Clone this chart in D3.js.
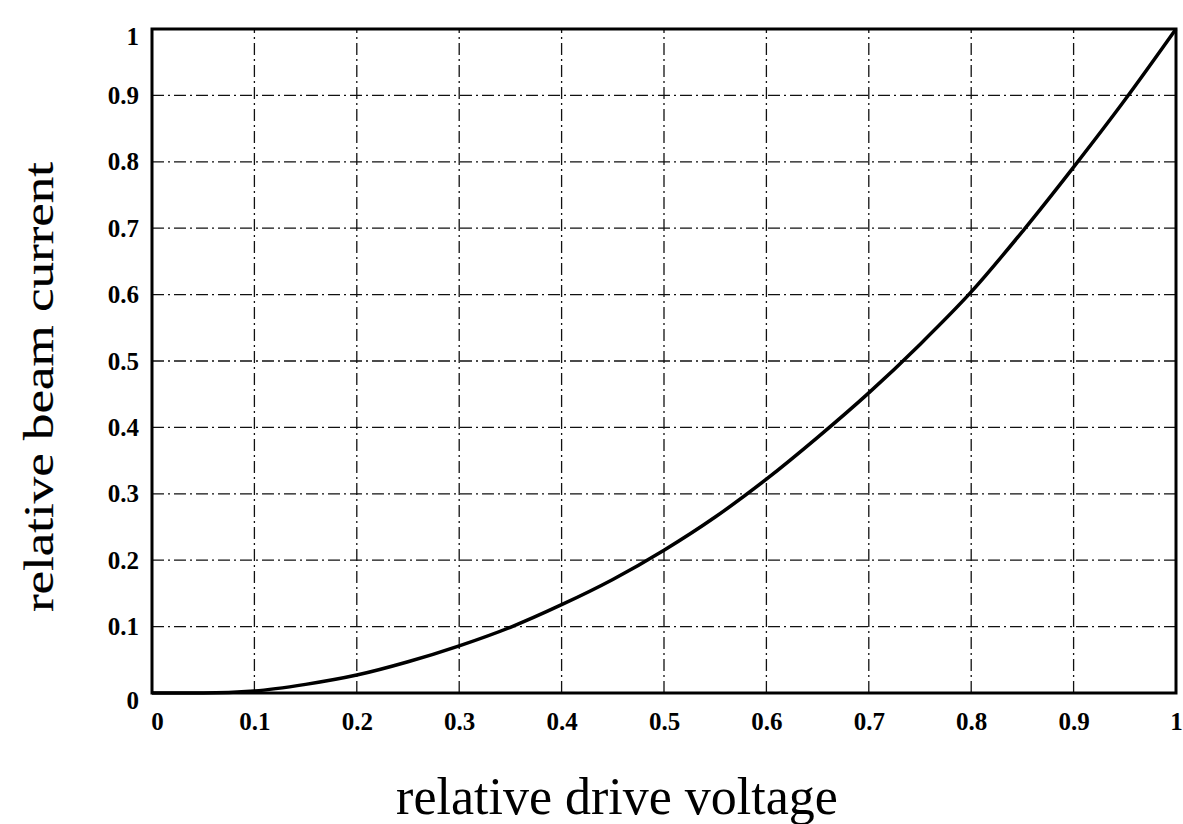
<!DOCTYPE html>
<html>
<head>
<meta charset="utf-8">
<script src="https://cdn.jsdelivr.net/npm/d3@7"></script>
<style>
  body { margin: 0; background: #fff; }
  svg { display: block; }
  .tick text { font-family: "Liberation Serif", "DejaVu Serif", serif; font-weight: bold; }
</style>
</head>
<body>
<svg id="chart" width="1183" height="824"></svg>
<script>
// values
const driveVoltage = [0, 0.05, 0.1, 0.15, 0.2, 0.25, 0.3, 0.35, 0.4, 0.45, 0.5,
  0.55, 0.6, 0.65, 0.7, 0.75, 0.8, 0.85, 0.9, 0.95, 1];
const beamCurrent = [0, 0, 0.003, 0.013, 0.027, 0.047, 0.071, 0.099, 0.133, 0.171, 0.215,
  0.265, 0.322, 0.385, 0.452, 0.525, 0.604, 0.695, 0.792, 0.893, 1];
const xTicks = [0, 0.1, 0.2, 0.3, 0.4, 0.5, 0.6, 0.7, 0.8, 0.9, 1];
const yTicks = [0, 0.1, 0.2, 0.3, 0.4, 0.5, 0.6, 0.7, 0.8, 0.9, 1];

const margin = { top: 29, right: 7, bottom: 131, left: 152 };
const width = 1183, height = 824;

const svg = d3.select("#chart");
const x = d3.scaleLinear().domain([0, 1]).range([margin.left, width - margin.right]);
const y = d3.scaleLinear().domain([0, 1]).range([height - margin.bottom, margin.top]);

const fmt = (d) => (d === 0 || d === 1 ? String(d) : d3.format(".1f")(d));

// grid
const grid = svg.append("g")
  .attr("stroke", "#111")
  .attr("stroke-width", 1.3)
  .attr("stroke-dasharray", "12,4,2,4");

grid.selectAll("line.gx")
  .data(xTicks.slice(1, -1))
  .join("line")
  .attr("class", "gx")
  .attr("x1", (d) => x(d)).attr("x2", (d) => x(d))
  .attr("y1", y(0)).attr("y2", y(1));

grid.selectAll("line.gy")
  .data(yTicks.slice(1, -1))
  .join("line")
  .attr("class", "gy")
  .attr("y1", (d) => y(d)).attr("y2", (d) => y(d))
  .attr("x1", x(0)).attr("x2", x(1));

// curve
const line = d3.line()
  .x((d, i) => x(driveVoltage[i]))
  .y((d) => y(d))
  .curve(d3.curveMonotoneX);

svg.append("path")
  .datum(beamCurrent)
  .attr("fill", "none")
  .attr("stroke", "#000")
  .attr("stroke-width", 3.5)
  .attr("d", line);

// frame
svg.append("rect")
  .attr("x", x(0)).attr("y", y(1))
  .attr("width", x(1) - x(0)).attr("height", y(0) - y(1))
  .attr("fill", "none")
  .attr("stroke", "#000")
  .attr("stroke-width", 3);

// axes
const xAxis = svg.append("g")
  .attr("transform", `translate(0,${y(0)})`)
  .call(d3.axisBottom(x).tickValues(xTicks).tickFormat(fmt).tickSize(0).tickPadding(19));
xAxis.select(".domain").remove();
xAxis.selectAll("text").attr("font-size", 25).attr("fill", "#000");
xAxis.selectAll(".tick").filter((d) => d === 0).select("text").attr("dx", "0.2em");

const yAxis = svg.append("g")
  .attr("transform", `translate(${x(0)},0)`)
  .call(d3.axisLeft(y).tickValues(yTicks).tickFormat(fmt).tickSize(0).tickPadding(13));
yAxis.select(".domain").remove();
yAxis.selectAll("text").attr("font-size", 25).attr("fill", "#000");
yAxis.selectAll(".tick").filter((d) => d === 0 || d === 1).select("text").attr("dy", "0.6em");

// axis titles
svg.append("text")
  .attr("x", 617)
  .attr("y", 814)
  .attr("text-anchor", "middle")
  .attr("font-family", "Liberation Serif, serif")
  .attr("font-size", 52)
  .text("relative drive voltage");

// the scanned y title is stretched along its length
svg.append("text")
  .attr("transform", "translate(53,387) scale(0.78,1) rotate(-90)")
  .attr("text-anchor", "middle")
  .attr("font-family", "Liberation Serif, serif")
  .attr("font-size", 53)
  .attr("stroke", "#000")
  .attr("stroke-width", 0.25)
  .text("relative beam current");
</script>
</body>
</html>
